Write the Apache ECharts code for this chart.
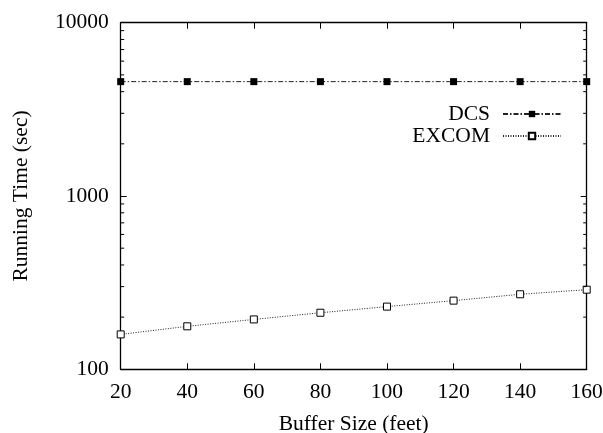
<!DOCTYPE html>
<html>
<head>
<meta charset="utf-8">
<script src="https://cdn.jsdelivr.net/npm/echarts@6/dist/echarts.min.js"></script>
<style>
html,body{margin:0;padding:0;background:#fff;}
#chart{width:603px;height:433px;}
</style>
</head>
<body>
<div id="chart"></div>
<script>
// ---- data ----
const bufferSizes = [20, 40, 60, 80, 100, 120, 140, 160];
const dcsTimes = [4570, 4570, 4570, 4570, 4570, 4570, 4570, 4570];
const excomTimes = [159, 177, 194, 212, 230, 249, 271, 288];
const xTicks = [20, 40, 60, 80, 100, 120, 140, 160];
const yMajorTicks = [100, 1000, 10000];
const yMinorTicks = [200, 300, 400, 500, 600, 700, 800, 900, 2000, 3000, 4000, 5000, 6000, 7000, 8000, 9000];

const FONT = 'Liberation Serif';
const FS = 21.5;
const X_MIN = xTicks[0], X_MAX = xTicks[xTicks.length - 1];
const Y_MIN = yMajorTicks[0], Y_MAX = yMajorTicks[yMajorTicks.length - 1];

const chart = echarts.init(document.getElementById('chart'), null, {renderer: 'canvas'});

const axisLineStyle = {color: '#000', width: 1.3};
const baseX = {
  type: 'value', min: X_MIN, max: X_MAX, interval: 20,
  splitLine: {show: false},
  axisLine: {show: true, lineStyle: axisLineStyle},
  axisTick: {show: true, inside: true, length: 6, lineStyle: {color: '#000', width: 1}}
};
const baseY = {
  type: 'log', logBase: 10, min: Y_MIN, max: Y_MAX,
  splitLine: {show: false},
  axisLine: {show: true, lineStyle: axisLineStyle},
  axisTick: {show: true, inside: true, length: 6, lineStyle: {color: '#000', width: 1}}
};

const option = {
  animation: false,
  backgroundColor: '#fff',
  grid: {left: 120.7, right: 16.3, top: 22.7, bottom: 63.7, containLabel: false, outerBoundsMode: 'none'},
  legend: {
    data: ['DCS', 'EXCOM'],
    orient: 'vertical',
    align: 'right',
    right: 36,
    top: 98,
    itemWidth: 58,
    itemHeight: 8,
    itemGap: 0,
    textStyle: {fontFamily: FONT, fontSize: FS, color: '#000', lineHeight: 22, padding: [0, 8, 0, 0]}
  },
  xAxis: [
    Object.assign({}, baseX, {
      position: 'bottom',
      name: 'Buffer Size (feet)', nameLocation: 'middle', nameGap: 44,
      nameTextStyle: {fontFamily: FONT, fontSize: FS, color: '#000'},
      axisLabel: {fontFamily: FONT, fontSize: FS, color: '#000', margin: 12}
    }),
    Object.assign({}, baseX, {position: 'top', axisLabel: {show: false}})
  ],
  yAxis: [
    Object.assign({}, baseY, {
      position: 'left',
      name: 'Running Time (sec)', nameLocation: 'middle', nameGap: 88,
      nameTextStyle: {fontFamily: FONT, fontSize: FS, color: '#000'},
      axisLabel: {fontFamily: FONT, fontSize: FS, color: '#000', margin: 12,
        formatter: function (v) { return String(Math.round(v)); }}
    }),
    Object.assign({}, baseY, {position: 'right', axisLabel: {show: false}})
  ],
  series: [
    {
      name: 'DCS', type: 'line',
      data: bufferSizes.map((x, i) => [x, dcsTimes[i]]),
      symbol: 'rect', symbolSize: 7,
      itemStyle: {color: '#000', borderWidth: 0},
      lineStyle: {color: '#222', width: 1, type: [5, 2, 1.5, 2]},
      z: 3
    },
    {
      name: 'EXCOM', type: 'line',
      data: bufferSizes.map((x, i) => [x, excomTimes[i]]),
      symbol: 'rect', symbolSize: 7,
      itemStyle: {color: '#fff', borderColor: '#000', borderWidth: 1},
      lineStyle: {color: '#222', width: 1, type: [1, 1.5]},
      z: 3
    },
    {
      name: 'minorTicks', type: 'custom',
      data: yMinorTicks.map(v => [X_MIN, v]),
      encode: {x: 0, y: 1},
      silent: true,
      clip: false,
      z: 5,
      renderItem: function (params, api) {
        const v = api.value(1);
        const pl = api.coord([X_MIN, v]);
        const pr = api.coord([X_MAX, v]);
        const len = 3.5;
        const st = {stroke: '#000', lineWidth: 1};
        return {
          type: 'group',
          children: [
            {type: 'line', shape: {x1: pl[0], y1: pl[1], x2: pl[0] + len, y2: pl[1]}, style: st},
            {type: 'line', shape: {x1: pr[0], y1: pr[1], x2: pr[0] - len, y2: pr[1]}, style: st}
          ]
        };
      }
    }
  ]
};
chart.setOption(option);
</script>
</body>
</html>
